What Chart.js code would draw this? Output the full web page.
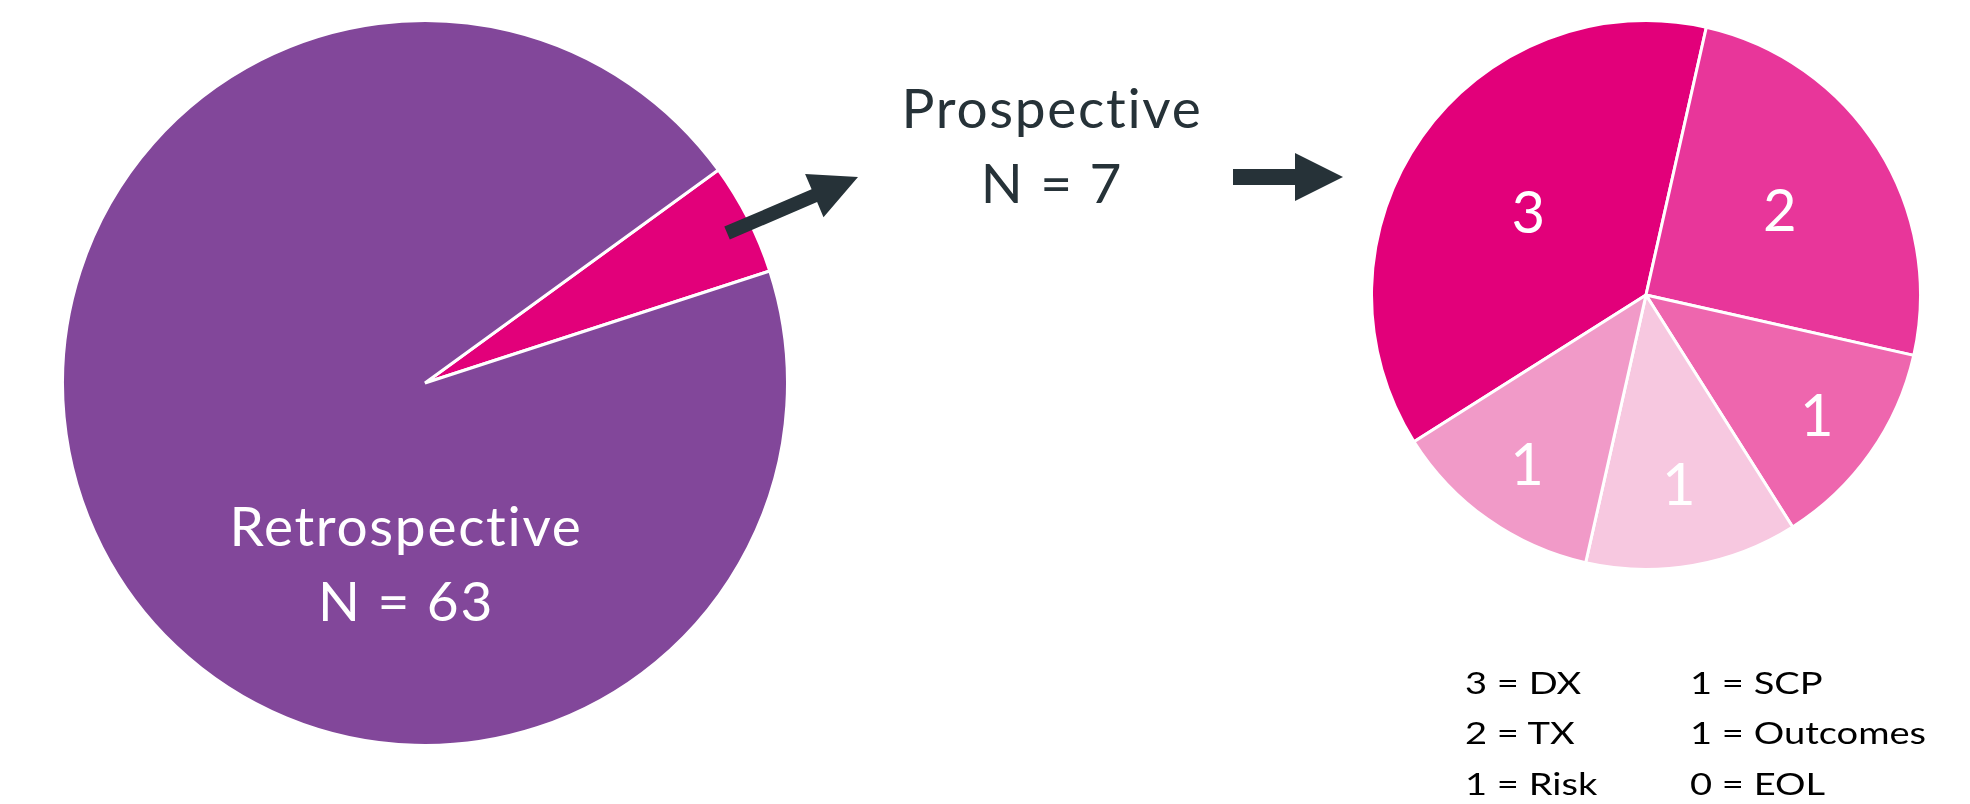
<!DOCTYPE html>
<html>
<head>
<meta charset="utf-8">
<script src="https://cdn.jsdelivr.net/npm/chart.js@4.4.1/dist/chart.umd.min.js"></script>
<style>
  html, body { margin: 0; padding: 0; background: #ffffff; width: 1970px; height: 804px; overflow: hidden; }
  #stage { position: relative; width: 1970px; height: 804px; }
  canvas { position: absolute; }
  #leftPie { left: 61px; top: 19px; }
  #rightPie { left: 1370px; top: 19px; }
  #overlay { position: absolute; left: 0; top: 0; }
  svg text { font-variant-ligatures: none; font-feature-settings: "liga" 0, "clig" 0, "dlig" 0; }
</style>
</head>
<body>
<div id="stage">
  <canvas id="leftPie" width="728" height="728"></canvas>
  <canvas id="rightPie" width="552" height="552"></canvas>
  <svg id="overlay" width="1970" height="804" xmlns="http://www.w3.org/2000/svg">
    <polygon points="724.3,226.6 811.6,189.3 805.1,174.1 858,177 823.5,217.3 817.1,202.1 729.8,239.4" fill="#263238"/>
    <polygon points="1233,169 1295,169 1295,153 1343,177 1295,201 1295,185 1233,185" fill="#263238"/>
    <g font-family="Lato, 'Open Sans', sans-serif" font-size="55" text-anchor="middle" letter-spacing="1.7">
      <text x="406" y="546" fill="#ffffff">Retrospective</text>
      <text x="406" y="621" fill="#ffffff">N = 63</text>
      <text x="1052" y="128" fill="#263238">Prospective</text>
      <text x="1052" y="203" fill="#263238">N = 7</text>
    </g>
    <g id="legendText" font-family="Lato, 'Open Sans', sans-serif" font-size="30" fill="#000000"></g>
  </svg>
</div>
<script>
// ---- Data ----
// Left pie: share of the circle drawn for each group (percent, as drawn)
const leftCategories = ['Prospective', 'Retrospective'];
const leftShare = [5, 95];
const leftColors = ['#E2007A', '#82479A'];

// Right pie: prospective studies by topic
const rightCategories = ['DX', 'TX', 'Risk', 'SCP', 'Outcomes', 'EOL'];
const rightCounts = [3, 2, 1, 1, 1, 0];
const rightColors = ['#E2007A', '#E8369A', '#EE66AE', '#F7C8E0', '#F19AC8', '#FBE3EF'];

// Legend text order (two columns)
const legendCol1 = ['DX', 'TX', 'Risk'];
const legendCol2 = ['SCP', 'Outcomes', 'EOL'];

// ---- Slice value labels plugin ----
const sliceLabels = {
  id: 'sliceLabels',
  afterDatasetsDraw(chart, args, opts) {
    if (!opts.show) return;
    const ctx = chart.ctx;
    const meta = chart.getDatasetMeta(0);
    const values = chart.data.datasets[0].data;
    ctx.save();
    ctx.fillStyle = opts.color;
    ctx.font = opts.weight + ' ' + opts.size + 'px ' + opts.family;
    ctx.textAlign = 'center';
    ctx.textBaseline = 'alphabetic';
    meta.data.forEach((arc, i) => {
      if (!values[i]) return;
      const p = arc.getProps(['x', 'y', 'startAngle', 'endAngle', 'outerRadius'], true);
      const mid = (p.startAngle + p.endAngle) / 2;
      const f = opts.radii[i];
      const x = p.x + Math.cos(mid) * p.outerRadius * f;
      const y = p.y + Math.sin(mid) * p.outerRadius * f + opts.size * 0.36;
      ctx.fillText(String(values[i]), x, y);
    });
    ctx.restore();
  }
};

const common = {
  responsive: false,
  animation: false,
  layout: { padding: 0 },
  plugins: { legend: { display: false }, tooltip: { enabled: false } }
};

new Chart(document.getElementById('leftPie'), {
  type: 'pie',
  data: {
    labels: leftCategories,
    datasets: [{ data: leftShare, backgroundColor: leftColors, borderColor: '#ffffff', borderWidth: 3 }]
  },
  options: Object.assign({}, common, {
    rotation: 54,
    plugins: Object.assign({}, common.plugins, { sliceLabels: { show: false } })
  }),
  plugins: [sliceLabels]
});

new Chart(document.getElementById('rightPie'), {
  type: 'pie',
  data: {
    labels: rightCategories,
    datasets: [{ data: rightCounts, backgroundColor: rightColors, borderColor: '#ffffff', borderWidth: 3 }]
  },
  options: Object.assign({}, common, {
    rotation: 237.7,
    plugins: Object.assign({}, common.plugins, {
      sliceLabels: {
        show: true,
        color: '#ffffff',
        weight: '400',
        size: 58,
        family: 'Lato, "Open Sans", sans-serif',
        radii: [0.525, 0.577, 0.762, 0.70, 0.752, 0.7]
      }
    })
  }),
  plugins: [sliceLabels]
});

// ---- Legend text built from the data ----
const lookup = {};
rightCategories.forEach((c, i) => { lookup[c] = rightCounts[i]; });
const g = document.getElementById('legendText');
const NS = 'http://www.w3.org/2000/svg';
const rowsY = [694, 744, 795];
[[legendCol1, 1465], [legendCol2, 1690]].forEach(([col, x]) => {
  col.forEach((cat, r) => {
    const t = document.createElementNS(NS, 'text');
    t.setAttribute('x', 0);
    t.setAttribute('y', 0);
    t.setAttribute('transform', 'translate(' + x + ',' + rowsY[r] + ') scale(1.27,1)');
    t.textContent = lookup[cat] + ' = ' + cat;
    g.appendChild(t);
  });
});
</script>
</body>
</html>
